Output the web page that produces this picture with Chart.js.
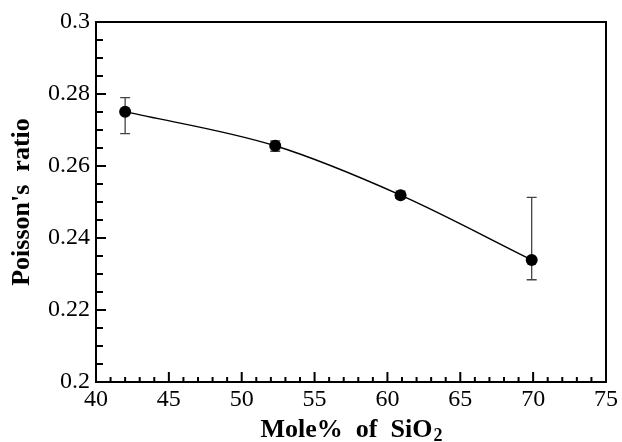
<!DOCTYPE html>
<html lang="en">
  <head>
    <meta charset="UTF-8" />
    <title>Poisson's ratio vs Mole% of SiO2</title>
    <script src="https://cdn.jsdelivr.net/npm/chart.js"></script>
    <style>
      body {
        margin: 0;
        background-color: #ffffff;
      }
      #wrap {
        width: 622px;
        height: 442px;
      }
    </style>
  </head>
  <body>
    <div id="wrap">
      <canvas id="myChart" width="622" height="442"></canvas>
    </div>

    <script>
      // data
      var molePct = [42.0, 52.3, 60.9, 69.9];
      var poisson = [0.2751, 0.2656, 0.2519, 0.2339];
      var errLow = [0.2690, 0.2641, 0.2510, 0.2284];
      var errHigh = [0.2790, 0.2670, 0.2530, 0.2513];

      var xTicks = [40, 45, 50, 55, 60, 65, 70, 75];
      var yTicks = [0.2, 0.22, 0.24, 0.26, 0.28, 0.3];
      var xMinorStep = 1;
      var yMinorStep = 0.005;

      var serif = 'Liberation Serif, "Times New Roman", Times, serif';
      var tickFont = { family: serif, size: 24 };
      var titleFont = { family: serif, size: 26, weight: 'bold' };

      // error bars, inward ticks, frame and the x title (needs a subscript)
      var decor = {
        id: 'decor',
        beforeDatasetsDraw: function (chart) {
          var ctx = chart.ctx, x = chart.scales.x, y = chart.scales.y;
          ctx.save();
          ctx.strokeStyle = '#444';
          ctx.lineWidth = 1.3;
          for (var i = 0; i < molePct.length; i++) {
            var px = x.getPixelForValue(molePct[i]);
            var lo = y.getPixelForValue(errLow[i]);
            var hi = y.getPixelForValue(errHigh[i]);
            ctx.beginPath();
            ctx.moveTo(px, lo); ctx.lineTo(px, hi);
            ctx.moveTo(px - 5, lo); ctx.lineTo(px + 5, lo);
            ctx.moveTo(px - 5, hi); ctx.lineTo(px + 5, hi);
            ctx.stroke();
          }
          ctx.restore();
        },
        afterDraw: function (chart) {
          var ctx = chart.ctx, a = chart.chartArea, x = chart.scales.x, y = chart.scales.y;
          ctx.save();
          ctx.strokeStyle = '#000';
          ctx.lineWidth = 2;
          ctx.beginPath();
          var n = Math.round((x.max - x.min) / xMinorStep);
          for (var i = 1; i < n; i++) {
            var v = x.min + i * xMinorStep;
            var px = x.getPixelForValue(v);
            var len = (v % 5 === 0) ? 10 : 5;
            ctx.moveTo(px, a.bottom); ctx.lineTo(px, a.bottom - len);
          }
          var m = Math.round((y.max - y.min) / yMinorStep);
          for (var j = 1; j < m; j++) {
            var py = y.getPixelForValue(y.min + j * yMinorStep);
            var ylen = (j % 4 === 0) ? 10 : 7;
            ctx.moveTo(a.left, py); ctx.lineTo(a.left + ylen, py);
          }
          ctx.stroke();
          ctx.strokeRect(a.left, a.top, a.right - a.left, a.bottom - a.top);

          // x axis title
          var main = 'Mole%  of  SiO';
          ctx.fillStyle = '#000';
          ctx.textBaseline = 'alphabetic';
          ctx.font = 'bold 26px ' + serif;
          var w1 = ctx.measureText(main).width;
          ctx.font = 'bold 18px ' + serif;
          var w2 = ctx.measureText('2').width;
          var cx = (a.left + a.right) / 2;
          var sx = cx - (w1 + w2) / 2;
          ctx.font = 'bold 26px ' + serif;
          ctx.fillText(main, sx, 437);
          ctx.font = 'bold 18px ' + serif;
          ctx.fillText('2', sx + w1 + 1, 441);
          ctx.restore();
        }
      };

      var ctx = document.getElementById('myChart').getContext('2d');
      var myChart = new Chart(ctx, {
        type: 'line',
        data: {
          datasets: [{
            label: "Poisson's ratio",
            data: molePct.map(function (v, i) { return { x: v, y: poisson[i] }; }),
            borderColor: '#000',
            borderWidth: 1.5,
            backgroundColor: '#000',
            pointRadius: 6,
            pointBorderWidth: 0,
            cubicInterpolationMode: 'monotone',
            fill: false
          }]
        },
        options: {
          responsive: false,
          animation: false,
          layout: { padding: { top: 22, right: 16, left: 0, bottom: 0 } },
          plugins: {
            legend: { display: false },
            tooltip: { enabled: false }
          },
          scales: {
            x: {
              type: 'linear',
              min: 40,
              max: 75,
              afterBuildTicks: function (s) { s.ticks = xTicks.map(function (v) { return { value: v }; }); },
              afterFit: function (s) { s.height = 60; },
              grid: { display: false, drawTicks: false },
              border: { display: false },
              ticks: { color: '#000', font: tickFont, padding: 3, maxRotation: 0 }
            },
            y: {
              type: 'linear',
              min: 0.2,
              max: 0.3,
              afterBuildTicks: function (s) { s.ticks = yTicks.map(function (v) { return { value: v }; }); },
              afterFit: function (s) { s.width = 96; },
              grid: { display: false, drawTicks: false },
              border: { display: false },
              ticks: {
                color: '#000',
                font: tickFont,
                padding: 6,
                callback: function (v) { return String(Number(v.toFixed(2))); }
              },
              title: {
                display: true,
                text: "Poisson's  ratio",
                color: '#000',
                font: titleFont,
                padding: { top: 7, bottom: 0 }
              }
            }
          }
        },
        plugins: [decor]
      });
    </script>
  </body>
</html>
